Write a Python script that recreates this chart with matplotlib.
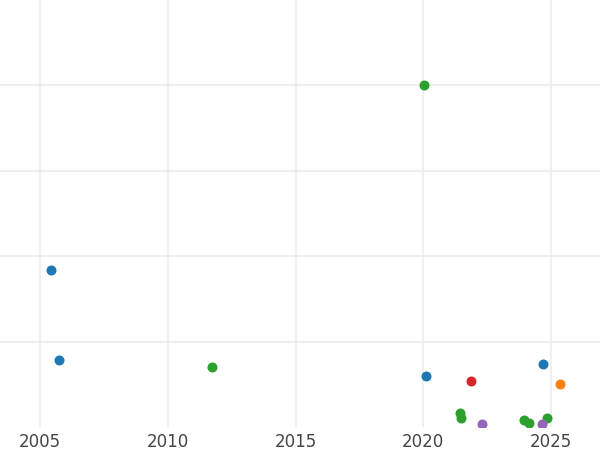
import matplotlib
matplotlib.use("Agg")
import matplotlib.pyplot as plt

# Data (year, value)
blue_x = [2005.43, 2005.74, 2020.10, 2024.67]
blue_y = [18.36, 7.84, 5.96, 7.37]

green_x = [2020.03, 2011.73, 2021.44, 2021.46, 2023.94, 2024.13, 2024.83]
green_y = [40.0, 7.02, 1.60, 1.05, 0.82, 0.43, 1.05]

red_x = [2021.87]
red_y = [5.35]

orange_x = [2025.35]
orange_y = [4.99]

purple_x = [2022.30, 2024.65]
purple_y = [0.32, 0.35]

xticks = [2005, 2010, 2015, 2020, 2025]

fig = plt.figure(figsize=(6, 4.5), dpi=100)
ax = fig.add_axes([0, 23 / 450, 1, 427 / 450])

series = [
    (blue_x, blue_y, "#1f77b4"),
    (green_x, green_y, "#2ca02c"),
    (red_x, red_y, "#d62728"),
    (orange_x, orange_y, "#ff7f0e"),
    (purple_x, purple_y, "#9467bd"),
]
for xs, ys, c in series:
    ax.scatter(xs, ys, s=52, color=c, linewidths=0, zorder=3)

ax.set_xlim(2003.434, 2026.918)
ax.set_ylim(0, 50)
ax.set_xticks(xticks)
ax.set_xticklabels([str(t) for t in xticks])
ax.set_yticks([10, 20, 30, 40])
ax.set_yticklabels([])

ax.grid(True, color="#ebebeb", linewidth=1.1)
ax.set_axisbelow(True)
for s in ax.spines.values():
    s.set_visible(False)
ax.tick_params(axis="both", length=0)
ax.tick_params(axis="x", labelsize=12, labelcolor="#444444", pad=4)

plt.savefig("out.png", dpi=100)
